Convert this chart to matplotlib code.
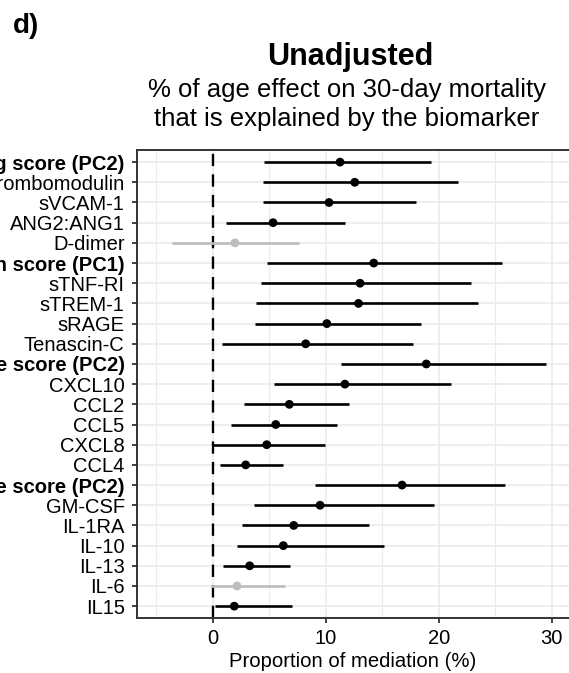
import matplotlib
matplotlib.use("Agg")
import matplotlib.pyplot as plt
import numpy as np

plt.rcParams['font.family'] = ['Liberation Sans', 'DejaVu Sans']

# Biomarkers, top to bottom
biomarkers = [
    'Endothelial signalling score (PC2)', 'Thrombomodulin', 'sVCAM-1', 'ANG2:ANG1', 'D-dimer',
    'Inflammation score (PC1)', 'sTNF-RI', 'sTREM-1', 'sRAGE', 'Tenascin-C',
    'Chemokine score (PC2)', 'CXCL10', 'CCL2', 'CCL5', 'CXCL8', 'CCL4',
    'Cytokine score (PC2)', 'GM-CSF', 'IL-1RA', 'IL-10', 'IL-13', 'IL-6', 'IL15',
]
is_score = [True, False, False, False, False,
            True, False, False, False, False,
            True, False, False, False, False, False,
            True, False, False, False, False, False, False]

# Proportion of mediation (%) with 95% CI
estimate = [11.27, 12.57, 10.29, 5.34, 1.97,
            14.25, 13.04, 12.90, 10.10, 8.23,
            18.90, 11.70, 6.78, 5.58, 4.78, 2.92,
            16.75, 9.50, 7.17, 6.25, 3.27, 2.15, 1.91]
ci_low = [4.54, 4.42, 4.42, 1.20, -3.58,
          4.83, 4.27, 3.83, 3.77, 0.85,
          11.35, 5.40, 2.77, 1.59, 0.06, 0.65,
          9.05, 3.68, 2.59, 2.18, 0.91, -0.18, 0.20]
ci_high = [19.29, 21.73, 18.02, 11.70, 7.64,
           25.60, 22.90, 23.45, 18.46, 17.73,
           29.50, 21.06, 12.06, 10.97, 9.94, 6.25,
           25.84, 19.56, 13.83, 15.13, 6.81, 6.40, 6.99]

xticks = [0, 10, 20, 30]

y = np.arange(len(biomarkers))
colors = ['black' if lo > 0 else '#BDBDBD' for lo in ci_low]

fig = plt.figure(figsize=(5.69, 6.73), dpi=100)
ax = fig.add_axes([0.2402, 0.0813, 0.7628, 0.6958])

# grid
for v in [-5, 5, 15, 25]:
    ax.axvline(v, color='#EBEBEB', lw=0.8, zorder=0)
for v in xticks:
    ax.axvline(v, color='#EBEBEB', lw=1.2, zorder=0)
for yy in y:
    ax.axhline(yy, color='#EBEBEB', lw=1.2, zorder=0)

ax.axvline(0, color='black', lw=1.7, ls=(0, (5.2, 3.5)), zorder=1)

ax.hlines(y, ci_low, ci_high, colors=colors, lw=1.9, zorder=2)
ax.scatter(estimate, y, c=colors, s=40, zorder=3, linewidths=0)

ax.set_xlim(-6.73, 31.68)
ax.set_ylim(len(biomarkers) - 0.4, -0.6)

ax.set_xticks(xticks)
ax.set_xticklabels([str(t) for t in xticks])
ax.set_yticks(y)
ax.set_yticklabels(biomarkers)
for lab, bold in zip(ax.get_yticklabels(), is_score):
    if bold:
        lab.set_fontweight('bold')

ax.tick_params(axis='both', labelsize=14.5, colors='#333333', labelcolor='black',
               length=3.6, width=1.3)
ax.tick_params(axis='y', pad=5.0)
ax.tick_params(axis='x', pad=4.0)

for s in ax.spines.values():
    s.set_color('#333333')
    s.set_linewidth(1.4)

fig.text(0.6203, 0.0089, 'Proportion of mediation (%)', ha='center', va='baseline',
         fontsize=14.6)

fig.text(0.6148, 0.9034, 'Unadjusted', ha='center', va='baseline',
         fontsize=22, fontweight='bold')
fig.text(0.609, (673 - 96.7) / 673, '% of age effect on 30-day mortality',
         ha='center', va='baseline', fontsize=18.5)
fig.text(0.609, (673 - 126) / 673, 'that is explained by the biomarker',
         ha='center', va='baseline', fontsize=18.5)

fig.text(0.0225, (673 - 32.7) / 673, 'd)', ha='left', va='baseline',
         fontsize=20, fontweight='bold')

fig.savefig('out.png', dpi=100)
